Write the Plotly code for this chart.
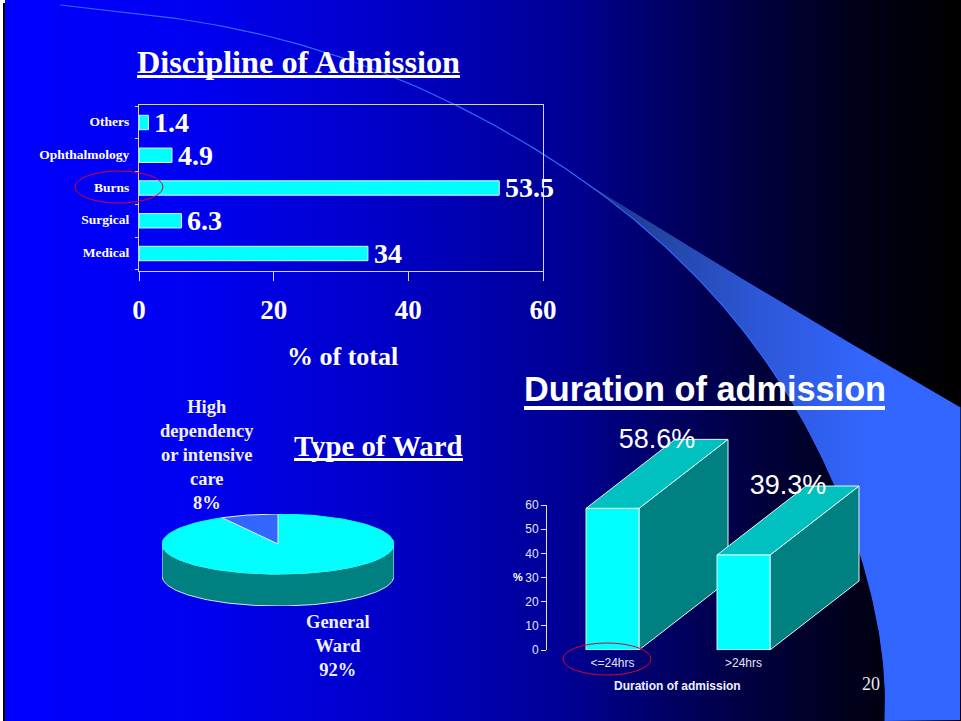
import numpy as np
import plotly.graph_objects as go

W, H = 961, 721
SERIF = "Liberation Serif"
SANS = "Liberation Sans"

# ---- data ----
disc_categories = ["Medical", "Surgical", "Burns", "Ophthalmology", "Others"]
disc_values = [34, 6.3, 53.5, 4.9, 1.4]
ward_labels = ["General<br>Ward<br>92%", "High<br>dependency<br>or intensive<br>care<br>8%"]
ward_values = [92, 8]
dur_categories = ["<=24hrs", ">24hrs"]
dur_values = [58.6, 39.3]
disc_ticks = [0, 20, 40, 60]
dur_ticks = [0, 10, 20, 30, 40, 50, 60]

# decoration outline (page pixels)
curve_knots = [(60, 5), (167, 17), (240, 30), (300, 45), (370, 67), (458, 107), (543, 153), (570, 172),
               (610, 200), (660, 243), (710, 293), (760, 350), (803, 420), (833, 483), (860, 553),
               (877, 617), (885, 721)]
upper_knots = [(570, 172), (660, 230), (760, 290), (860, 347), (960, 408)]
bg_stops = [(0, 255), (200, 240), (400, 195), (560, 150), (700, 85), (800, 45), (900, 12), (961, 0)]


def smooth(knots, deg, n=200):
    p = np.array(knots, float)
    s = np.r_[0, np.cumsum(np.hypot(*np.diff(p, axis=0).T))]
    s /= s[-1]
    u = np.linspace(0, 1, n)
    return np.c_[np.polyval(np.polyfit(s, p[:, 0], deg), u), np.polyval(np.polyfit(s, p[:, 1], deg), u)]


def dom_x(a, b):
    return [a / W, b / W]


def dom_y(top, bottom):
    return [1 - bottom / H, 1 - top / H]


def bold(family, size, color="white"):
    return dict(family=family, size=size, color=color, weight=700)


fig = go.Figure()

# ---- background ----
bx = np.arange(6, 961, 2)
bz = np.interp(bx, [s[0] for s in bg_stops], [s[1] for s in bg_stops]) / 255
fig.add_trace(go.Heatmap(x=bx, y=[6, 720], z=[bz, bz], zmin=0, zmax=1, showscale=False, hoverinfo="skip",
                         colorscale=[[0, "#000000"], [1, "#0000ff"]], xaxis="x", yaxis="y"))

inner = smooth(curve_knots, 7)
upper = smooth(upper_knots, 2)
start = int(np.argmin(np.abs(inner[:, 0] - upper_knots[0][0])))
poly = np.vstack([inner[start:], [[960, 720], [960, 408]], upper[::-1]])
fig.add_trace(go.Scatter(x=poly[:, 0], y=poly[:, 1], mode="lines", line=dict(width=0), fill="toself",
                         fillgradient=dict(type="horizontal", start=570, stop=870,
                                           colorscale=[[0, "#142f78"], [0.3, "#2345a5"], [0.63, "#2d57d8"], [1, "#3366ff"]]),
                         hoverinfo="skip", xaxis="x", yaxis="y"))
fig.add_trace(go.Scatter(x=inner[:, 0], y=inner[:, 1], mode="lines", line=dict(color="#3366ff", width=1.2),
                         hoverinfo="skip", xaxis="x", yaxis="y"))

# ---- discipline bars ----
fig.add_trace(go.Bar(y=disc_categories, x=disc_values, orientation="h", xaxis="x2", yaxis="y2", width=0.44,
                     marker=dict(color="#00ffff", line=dict(color="#e4eeff", width=1)),
                     cliponaxis=False, hoverinfo="skip"))
for cat, val in zip(disc_categories, disc_values):
    fig.add_annotation(xref="x2", yref="y2", x=val, y=cat, text=f"<b>{val}</b>", showarrow=False, xanchor="left",
                       yanchor="middle", xshift=4, yshift=0, font=dict(family=SERIF, size=28, color="white"))

# ---- ward pie (tilted disc) ----
fr = ward_values[0] / sum(ward_values) * 2 * np.pi
DEPTH = 32 / 30


def wedge(a, b):
    t = np.linspace(a, b, 120)
    return np.r_[0, np.sin(t), 0], np.r_[0, np.cos(t), 0]


t = np.linspace(np.pi / 2, 3 * np.pi / 2, 100)
sx = np.r_[np.sin(t), np.sin(t[::-1]), np.sin(t[0])]
sy = np.r_[np.cos(t), np.cos(t[::-1]) - DEPTH, np.cos(t[0])]
fig.add_trace(go.Scatter(x=sx, y=sy, mode="lines", fill="toself", fillcolor="#008080",
                         line=dict(color="#d8e8f0", width=1), xaxis="x3", yaxis="y3", hoverinfo="skip"))
wx, wy = wedge(0, fr)
fig.add_trace(go.Scatter(x=wx, y=wy, mode="lines", fill="toself", fillcolor="#00ffff",
                         line=dict(color="#00ffff", width=1), xaxis="x3", yaxis="y3", hoverinfo="skip"))
wx, wy = wedge(fr, 2 * np.pi)
fig.add_trace(go.Scatter(x=wx, y=wy, mode="lines", fill="toself", fillcolor="#3366ff",
                         line=dict(color="#e8f0ff", width=1), xaxis="x3", yaxis="y3", hoverinfo="skip"))

# ---- duration 3-D bars: ticks on x4/y4, faces on the same scale in the roomier x5/y5 ----
fig.add_trace(go.Scatter(x=[0, 1], y=dur_values, mode="markers", marker=dict(opacity=0), xaxis="x4", yaxis="y4",
                         hoverinfo="skip"))
HALF = 53 / 131 / 2
DX, DY = 89 / 131, 69 * 60 / 145
EDGE = dict(color="#e4f4f4", width=1)
for i, v in enumerate(dur_values):
    l, r = i - HALF, i + HALF
    faces = [([r, r + DX, r + DX, r, r], [0, DY, v + DY, v, 0], "#008080"),
             ([l, r, r + DX, l + DX, l], [v, v, v + DY, v + DY, v], "#00c0c0"),
             ([l, r, r, l, l], [0, 0, v, v, 0], "#00ffff")]
    for fx, fy, c in faces:
        fig.add_trace(go.Scatter(x=fx, y=fy, mode="lines", fill="toself", fillcolor=c, line=EDGE,
                                 xaxis="x5", yaxis="y5", hoverinfo="skip"))
fig.add_trace(go.Scatter(x=[i + 0.34 for i in range(len(dur_values))], y=[v + DY - 0.6 for v in dur_values],
                         mode="text", text=[f"{v}%" for v in dur_values], textposition="middle center",
                         textfont=dict(family=SANS, size=27, color="white"), cliponaxis=False,
                         xaxis="x5", yaxis="y5", hoverinfo="skip"))

# ---- axes ----
hidden = dict(visible=False, fixedrange=True)
FRAME = "#d4d4ee"
PX_UNIT = 145 / 60
fig.update_layout(
    template="none",
    width=W, height=H, margin=dict(l=0, r=0, t=0, b=0, pad=0), showlegend=False,
    paper_bgcolor="white", plot_bgcolor="rgba(0,0,0,0)",
    xaxis=dict(range=[0, W], domain=[0, 1], **hidden),
    yaxis=dict(range=[H, 0], domain=[0, 1], **hidden),
    xaxis2=dict(domain=dom_x(139, 543), range=[0, 60], anchor="y2", tickvals=disc_ticks, ticks="outside", ticklen=9,
                tickcolor=FRAME, linecolor=FRAME, showline=True, mirror=True, showgrid=False, zeroline=False,
                tickfont=bold(SERIF, 27), ticklabelstandoff=6),
    yaxis2=dict(domain=dom_y(105, 271), anchor="x2", type="category", categoryorder="array",
                categoryarray=disc_categories, tickson="boundaries", ticks="outside", ticklen=3, tickcolor=FRAME,
                linecolor=FRAME, showline=True, mirror=True, showgrid=False, zeroline=False,
                tickfont=bold(SERIF, 13.5), ticklabelstandoff=6, ticklabelshift=-1),
    xaxis3=dict(domain=dom_x(162, 394), range=[-1, 1], anchor="y3", **hidden),
    yaxis3=dict(domain=dom_y(514, 606), range=[-1 - DEPTH, 1], anchor="x3", **hidden),
    xaxis4=dict(domain=dom_x(547, 809), range=[-0.5, 1.5], anchor="y4", tickvals=[0, 1], ticktext=dur_categories,
                ticks="", showline=False, showgrid=False, zeroline=False, ticklabelstandoff=4,
                tickfont=dict(family=SANS, size=12, color="#e4e4f6")),
    yaxis4=dict(domain=dom_y(505, 650), range=[0, 60], anchor="x4", tickvals=dur_ticks, ticks="outside", ticklen=5,
                tickcolor="#e4e4f6", linecolor="#e4e4f6", showline=True, showgrid=False, zeroline=False,
                tickfont=dict(family=SANS, size=12, color="#e4e4f6")),
    xaxis5=dict(domain=dom_x(547, 547 + 2.5 * 131), range=[-0.5, 2.0], anchor="y5", **hidden),
    yaxis5=dict(domain=dom_y(650 - 90 * PX_UNIT, 650), range=[0, 90], anchor="x5", **hidden),
)


def label(txt, x, y, fam, size, isbold=True, color="white"):
    fig.add_annotation(xref="x", yref="y", x=x, y=y, text=f"<b>{txt}</b>" if isbold else txt, showarrow=False,
                       xanchor="center", yanchor="middle", align="center",
                       font=dict(family=fam, size=size, color=color))


label("Discipline of Admission", 298.5, 62, SERIF, 32.3)
label("% of total", 342.5, 356, SERIF, 26)
label("Duration of admission", 704.5, 389, SANS, 34.3)
label("Type of Ward", 378.5, 446, SERIF, 28.8)
label(ward_labels[1], 207, 454.5, SERIF, 18.5, color="#f0f0ff")
label(ward_labels[0], 338, 646, SERIF, 18.5, color="#f0f0ff")
label("%", 518, 577, SANS, 11)
label("Duration of admission", 677, 686, SANS, 12, color="#f0f0ff")
label("20", 871, 684, SERIF, 18, isbold=False, color="#e8e8f0")

# black slide frame, underlines, red highlight rings
fig.add_shape(type="rect", xref="x", yref="y", x0=3, x1=961, y0=3, y1=721, layer="below",
              fillcolor="black", line=dict(width=0))
for x0, x1, y, w in [(137, 460, 76.5, 3), (294, 463, 459.5, 3), (524, 885, 408, 4)]:
    fig.add_shape(type="line", xref="x", yref="y", x0=x0, x1=x1, y0=y, y1=y, line=dict(color="white", width=w))
for box in [(75, 171, 163, 203), (563, 643, 651, 675)]:
    fig.add_shape(type="circle", xref="x", yref="y", x0=box[0], y0=box[1], x1=box[2], y1=box[3],
                  line=dict(color="#e00030", width=1))

fig.write_html("out.html", config=dict(displayModeBar=False), post_script="document.body.style.margin='0';")
